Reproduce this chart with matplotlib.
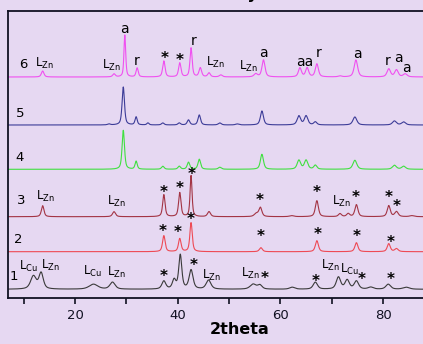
import numpy as np
import matplotlib
matplotlib.use("Agg")
import matplotlib.pyplot as plt

plt.rcParams['font.family'] = ['DejaVu Sans']
plt.rcParams['mathtext.fontset'] = 'dejavusans'

# ---------------- data (peak lists) ----------------
# positions in 2theta, heights in arbitrary intensity units, FWHM in degrees
s1_pos = [11.9, 13.4, 23.6, 27.3, 37.3, 39.3, 40.5, 42.6, 46.0, 54.7, 56.0, 62.3, 66.8, 71.3, 73.0, 74.8, 77.6, 81.0, 84.5]
s1_hgt = [13, 16, 5, 7, 8, 9, 34, 19, 9, 5, 4, 2, 7, 12, 9, 8, 2, 5, 2]
s1_wid = [1.3, 1.0, 2.0, 1.2, 0.9, 0.8, 0.7, 0.9, 1.1, 1.4, 1.0, 1.2, 1.0, 1.0, 1.0, 1.0, 1.2, 1.1, 1.5]

s2_pos = [37.3, 40.4, 42.6, 56.2, 67.1, 74.8, 81.1, 82.6]
s2_hgt = [16, 13, 29, 4, 11, 9, 8, 3]
s2_wid = [0.6, 0.6, 0.55, 0.7, 0.7, 0.7, 0.7, 0.8]

s3_pos = [13.7, 27.6, 37.3, 40.4, 42.6, 46.1, 55.3, 56.1, 62.2, 67.1, 71.6, 73.2, 74.8, 81.1, 82.6, 85.6]
s3_hgt = [11, 5, 22, 24, 41, 5, 3, 9, 1, 16, 3, 3, 12, 11, 5, 1]
s3_wid = [0.6, 0.7, 0.55, 0.55, 0.45, 0.7, 0.9, 0.7, 1.0, 0.7, 0.7, 0.7, 0.7, 0.7, 0.8, 1.0]

s4_pos = [29.4, 31.9, 37.1, 40.3, 42.1, 44.2, 48.2, 56.4, 63.6, 65.0, 66.8, 74.5, 82.2, 84.0]
s4_hgt = [39, 8, 3, 3, 7, 10, 2, 15, 9, 9, 4, 9, 4, 3]
s4_wid = [0.55, 0.5, 0.6, 0.6, 0.6, 0.6, 0.7, 0.7, 0.8, 0.8, 0.7, 0.9, 0.9, 0.9]

s5_pos = [26.6, 29.4, 31.9, 34.2, 37.1, 40.3, 42.1, 44.2, 48.2, 51.6, 56.4, 63.6, 65.0, 66.8, 74.5, 82.2, 84.0]
s5_hgt = [1, 38, 8, 2, 2, 2, 5, 10, 2, 1, 14, 9, 9, 3, 8, 4, 3]
s5_wid = [0.6, 0.55, 0.5, 0.5, 0.6, 0.6, 0.6, 0.6, 0.7, 0.8, 0.7, 0.8, 0.8, 0.7, 0.9, 0.9, 0.9]

s6_pos = [13.7, 27.6, 29.7, 32.1, 37.3, 40.4, 42.6, 44.4, 46.1, 48.4, 55.2, 56.7, 63.8, 65.2, 67.1, 71.6, 74.7, 81.1, 82.6, 84.3]
s6_hgt = [6, 3, 42, 9, 16, 14, 29, 9, 4, 2, 3, 17, 9, 9, 13, 1, 17, 8, 7, 3]
s6_wid = [0.6, 0.6, 0.4, 0.5, 0.55, 0.55, 0.5, 0.6, 0.6, 0.7, 0.8, 0.7, 0.7, 0.7, 0.7, 0.8, 0.8, 0.8, 0.8, 0.9]

series_names = ['1', '2', '3', '4', '5', '6']

x_ticks = [20, 40, 60, 80]
x_label = '2theta'

# ---------------- style / layout ----------------
colors = ['#3a3a3a', '#ee4a55', '#a33444', '#40e040', '#3c3c98', '#f050f0']
offsets = [8.7, 46.3, 81.3, 128.7, 173.0, 221.0]  # vertical stacking
bg = '#e6d8f2'

W, H = 423, 344
fig = plt.figure(figsize=(W / 100, H / 100), dpi=100, facecolor=bg)
px_per_deg = 5.135
x0, x1 = 6.95, 90.0
ax = fig.add_axes([8 / W, 46 / H, (x1 - x0) * px_per_deg / W, 287 / H])
ax.set_facecolor(bg)
ax.set_xlim(x0, x1)
ax.set_ylim(0, 287)

xx = np.linspace(x0, x1, 4000)


def pattern(pos, hgt, wid):
    y = np.zeros_like(xx)
    for p, h, w in zip(pos, hgt, wid):
        g = (w / 2) ** 2
        lor = g / ((xx - p) ** 2 + g)
        gau = np.exp(-4 * np.log(2) * (xx - p) ** 2 / w ** 2)
        y += h * (0.6 * lor + 0.4 * gau)
    return y


all_series = [(s1_pos, s1_hgt, s1_wid), (s2_pos, s2_hgt, s2_wid), (s3_pos, s3_hgt, s3_wid),
              (s4_pos, s4_hgt, s4_wid), (s5_pos, s5_hgt, s5_wid), (s6_pos, s6_hgt, s6_wid)]
for (p, h, w), c, off in zip(all_series, colors, offsets):
    ax.plot(xx, pattern(p, h, w) + off, color=c, lw=0.8)

# axes styling
for s in ['left', 'bottom', 'top']:
    ax.spines[s].set_linewidth(1.3)
    ax.spines[s].set_color('#111122')
ax.spines['right'].set_visible(False)
ax.set_yticks([])
ax.set_xticks(x_ticks)
ax.set_xticks([10, 30, 50, 70, 90], minor=True)
ax.tick_params(axis='x', which='both', direction='out', length=4, width=1.2, colors='#111122',
               labelsize=9.5)
ax.tick_params(axis='x', which='major', pad=4)
fig.text(240 / W, 1 - 330 / H, x_label, ha='center', va='center', fontsize=11.5, fontweight='bold')
fig.text(258 / W, 1 + 1.2 / H, 'Intensity', ha='right', va='baseline', fontsize=11.5, fontweight='bold')


def ypix(yp):
    return 298 - yp


LZn = r'L$_{\mathrm{Zn}}$'
LCu = r'L$_{\mathrm{Cu}}$'

num_pos = [(13.3, 276.7), (18.3, 239.3), (20.7, 201), (19.3, 157.3), (20, 113.3), (23.3, 65)]
for name, (xp, yp) in zip(series_names, num_pos):
    ax.text(7 + (xp - 8) / px_per_deg, ypix(yp), name, ha='center', va='center', fontsize=9.5)


def deg(xp):
    return 20 + (xp - 75) / px_per_deg


annotations = [
    # series 6
    (LZn, 44, 63), (LZn, 111.7, 65), ('a', 124.3, 29), ('r', 136.7, 60.7), ('*', 164.3, 58),
    ('*', 180, 60), ('r', 194, 41.3), (LZn, 215, 62), (LZn, 248.3, 66), ('a', 263.7, 53.3),
    ('aa', 304.3, 62.3), ('r', 319, 52.7), ('a', 357, 54.3), ('r', 387.7, 61), ('a', 398.3, 57.7),
    ('a', 406.7, 68),
    # series 3
    (LZn, 45.7, 196.7), (LZn, 116.7, 201), ('*', 163.7, 192), ('*', 179.3, 189), ('*', 192, 175),
    ('*', 260, 200), ('*', 316.7, 193), (LZn, 341.7, 201.7), ('*', 355.3, 197.7), ('*', 388.3, 197.7),
    ('*', 396.7, 206),
    # series 2
    ('*', 162.3, 231.3), ('*', 178, 233), ('*', 191, 219.3), ('*', 260.3, 237), ('*', 317.3, 234),
    ('*', 356.7, 237), ('*', 390.7, 242),
    # series 1
    (LCu, 28.3, 266), (LZn, 50, 265), (LCu, 92.3, 271), (LZn, 116, 272.7), ('*', 163.3, 276),
    ('*', 194, 265.3), (LZn, 211, 275.7), (LZn, 250.7, 273.3), ('*', 265, 278.7), ('*', 315.7, 281.3),
    (LZn, 330, 265), (LCu, 349, 269.3), ('*', 361.7, 279.7), ('*', 390.7, 279.7),
]
for txt, xp, yp in annotations:
    if txt == '*':
        ax.text(deg(xp), ypix(yp), '*', ha='center', va='center', fontsize=11, fontweight='bold')
    elif txt.startswith('L'):
        ax.text(deg(xp), ypix(yp), txt, ha='center', va='center', fontsize=8.5)
    else:
        ax.text(deg(xp), ypix(yp), txt, ha='center', va='center', fontsize=10)

fig.savefig('out.png', dpi=100, facecolor=bg)
